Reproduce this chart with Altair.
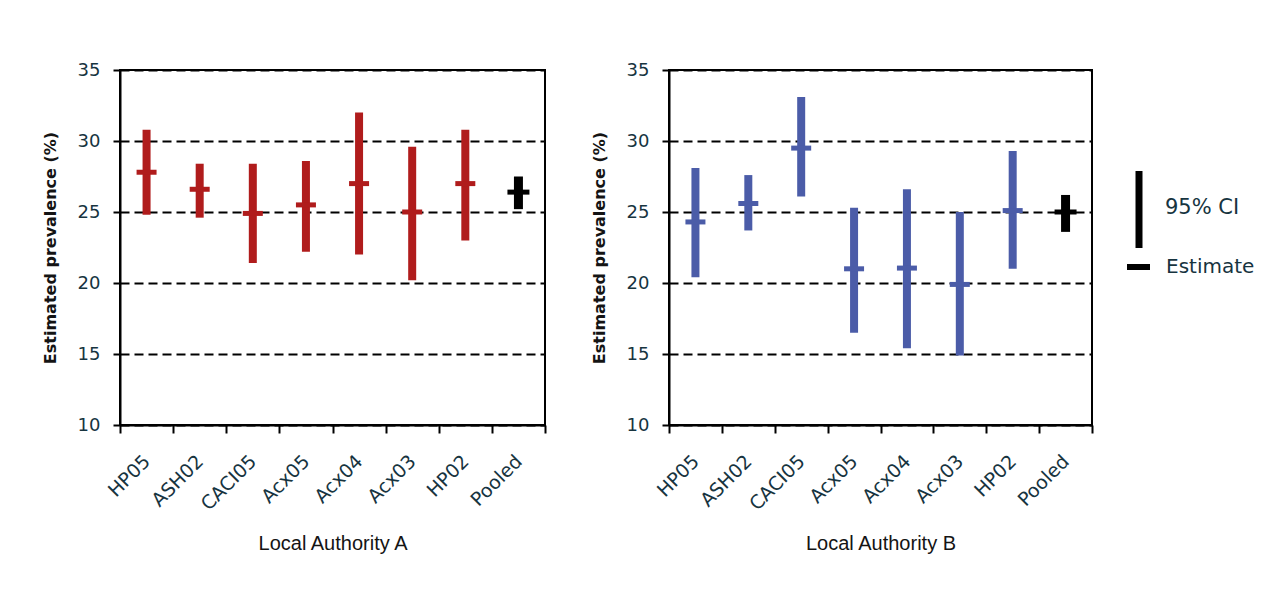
import altair as alt
import pandas as pd

sites = ["HP05", "ASH02", "CACI05", "Acx05", "Acx04", "Acx03", "HP02", "Pooled"]
groups = ["site"] * 7 + ["pooled"]

a_est = [27.8, 26.6, 24.9, 25.5, 27.0, 25.0, 27.0, 26.4]
a_lo = [24.8, 24.6, 21.4, 22.2, 22.0, 20.2, 23.0, 25.2]
a_hi = [30.8, 28.4, 28.4, 28.6, 32.0, 29.6, 30.8, 27.5]

b_est = [24.3, 25.6, 29.5, 21.0, 21.05, 19.9, 25.1, 25.0]
b_lo = [20.4, 23.7, 26.1, 16.5, 15.4, 14.9, 21.0, 23.6]
b_hi = [28.1, 27.6, 33.1, 25.3, 26.6, 25.0, 29.3, 26.2]

y_ticks = [10, 15, 20, 25, 30, 35]
legend_labels = ["95% CI", "Estimate"]

RED = "#B01C1C"
BLUE = "#4B5CA8"
LABEL_COLOR = "#17343f"
TITLE_COLOR = "#141414"


def panel(est, lo, hi, color, xtitle, width, with_legend=False):
    df = pd.DataFrame({"site": sites, "est": est, "lo": lo, "hi": hi, "grp": groups})
    xenc = alt.X(
        "site:N",
        scale=alt.Scale(domain=sites, paddingInner=0, paddingOuter=0),
        axis=alt.Axis(
            title=xtitle, tickBand="extent", labelAngle=-45, labelAlign="right",
            labelBaseline="middle", labelPadding=25, labelFont="DejaVu Sans",
            labelFontSize=19, labelColor=LABEL_COLOR, tickSize=8, tickWidth=2,
            tickColor="black", domainColor="black", domainWidth=2, grid=False,
            titleFont="Liberation Sans", titleFontSize=20, titleFontWeight="normal",
            titleColor=TITLE_COLOR, titlePadding=20,
        ),
    )
    yaxis = alt.Axis(
        title="Estimated prevalence (%)", values=y_ticks, labelFont="DejaVu Sans",
        labelFontSize=18, labelColor=LABEL_COLOR, labelPadding=13, tickSize=7,
        tickWidth=2, tickColor="black", domainColor="black", domainWidth=2,
        grid=True, gridColor="black", gridWidth=2, gridDash=[9, 5],
        titleFont="DejaVu Sans", titleFontSize=16, titleFontWeight="bold",
        titleColor=TITLE_COLOR, titlePadding=19,
    )
    yscale = alt.Scale(domain=[10, 35], nice=False, zero=False)

    base = alt.Chart(df)
    site_df = base.transform_filter(alt.datum.grp == "site")
    pool_df = base.transform_filter(alt.datum.grp == "pooled")

    bars = site_df.mark_bar(width=8, color=color).encode(
        x=xenc, y=alt.Y("lo:Q", scale=yscale, axis=yaxis), y2="hi:Q")
    ticks = site_df.mark_tick(size=20, thickness=5, color=color, opacity=1).encode(
        x=xenc, y=alt.Y("est:Q", scale=yscale, axis=yaxis))
    pbars = pool_df.mark_bar(width=9, color="black").encode(
        x=xenc, y=alt.Y("lo:Q", scale=yscale, axis=yaxis), y2="hi:Q")
    pticks = pool_df.mark_tick(size=22, thickness=5, color="black", opacity=1).encode(
        x=xenc, y=alt.Y("est:Q", scale=yscale, axis=yaxis))

    layers = [bars, ticks, pbars, pticks]

    if with_legend:
        ci = alt.Chart(alt.Data(values=[{"label": legend_labels[0]}]))
        es = alt.Chart(alt.Data(values=[{"label": legend_labels[1]}]))
        layers += [
            ci.mark_rule(color="black", strokeWidth=7).encode(
                x=alt.value(width + 47), y=alt.value(101), y2=alt.value(178)),
            es.mark_rule(color="black", strokeWidth=6).encode(
                x=alt.value(width + 35), x2=alt.value(width + 58), y=alt.value(197)),
            ci.mark_text(align="left", baseline="middle", font="DejaVu Sans",
                         fontSize=21, color=LABEL_COLOR).encode(
                x=alt.value(width + 73), y=alt.value(138), text="label:N"),
            es.mark_text(align="left", baseline="middle", font="DejaVu Sans",
                         fontSize=20, color=LABEL_COLOR).encode(
                x=alt.value(width + 74), y=alt.value(197), text="label:N"),
        ]

    return alt.layer(*layers).properties(width=width, height=355)


chart_a = panel(a_est, a_lo, a_hi, RED, "Local Authority A", 425)
chart_b = panel(b_est, b_lo, b_hi, BLUE, "Local Authority B", 423, with_legend=True)

chart = (
    alt.hconcat(chart_a, chart_b, spacing=43)
    .properties(padding={"left": 33, "top": 52, "right": 5, "bottom": 5}, background="white")
    .configure_view(stroke="black", strokeWidth=2)
)

chart.save("out.html", embed_options={"renderer": "svg", "actions": False})
